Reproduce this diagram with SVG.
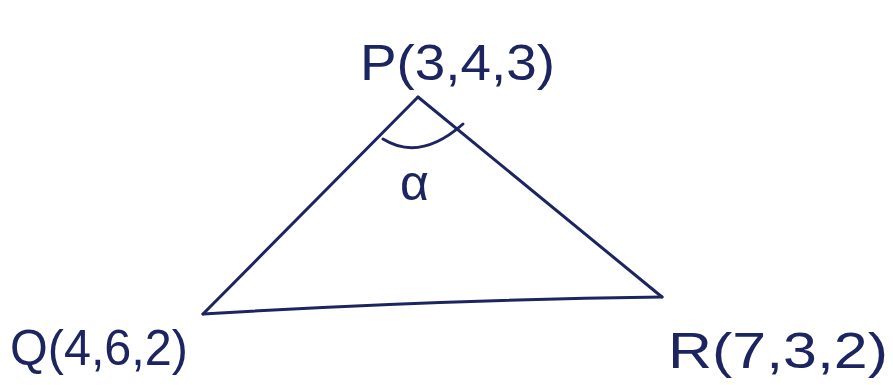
<svg xmlns="http://www.w3.org/2000/svg" width="893" height="385" viewBox="0 0 893 385">
<style>
.ln{fill:none;stroke:#1c2560;stroke-width:3;stroke-linecap:round;stroke-linejoin:round}
.lb{font-family:"Liberation Sans",Arial,sans-serif;fill:#1c2560;font-size:50px}
</style>
<rect width="893" height="385" fill="#ffffff"/>
<g id="connectors">
<path class="ln" d="M418,97 L203,314"/>
<path class="ln" d="M418,97 L662,297"/>
<path class="ln" d="M203,314 Q430,300 662,297"/>
<path class="ln" d="M383,139 Q420,162 463,124"/>
</g>
<g id="P"><text class="lb" x="360" y="80" textLength="195" lengthAdjust="spacingAndGlyphs">P(3,4,3)</text></g>
<g id="Q"><text class="lb" x="10" y="365" textLength="178" lengthAdjust="spacingAndGlyphs">Q(4,6,2)</text></g>
<g id="R"><text class="lb" x="668" y="368" textLength="220" lengthAdjust="spacingAndGlyphs">R(7,3,2)</text></g>
<g id="alpha"><text class="lb" x="400" y="200" font-size="44">α</text></g>
</svg>
